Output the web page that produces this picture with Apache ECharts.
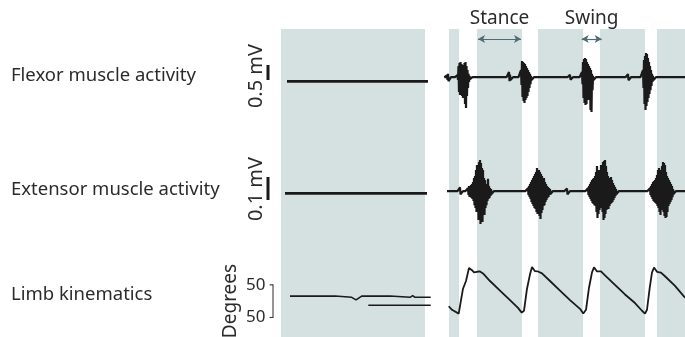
<!DOCTYPE html>
<html>
<head>
<meta charset="utf-8">
<script src="https://cdn.jsdelivr.net/npm/echarts@6.0.0/dist/echarts.min.js"></script>
<style>
  html, body { margin: 0; padding: 0; background: #fff; }
  #chart { width: 685px; height: 337px; }
</style>
</head>
<body>
<div id="chart"></div>
<script>
const FONT = "Noto Sans";
const INK = "#1a1a1a";
const BAND = "#d5e1e1";
const ARROW = "#4f6b73";

// time axis: arbitrary units, 0 = start of the first shaded block
const bandStarts = [0, 168, 196, 257, 319, 376];
const bandEnds = [144, 178, 241, 302, 364, 404];

const phaseNames = ["Stance", "Swing"];
const phaseStarts = [197, 300.7];
const phaseEnds = [240, 320.7];
const phaseLevel = 298;

// flexor EMG (mV)
const flexLeftSpan = [6, 147];
const flexLeftBase = -0.08;
const flexRightSpan = [166, 404];
const flexRightBase = 0.06;
const flexStarts = [166, 176.5, 228, 240, 289, 301, 347, 362];
const flexHi = [
  [0.12, 0.17],
  [0.13, 0.43, 0.53, 0.57, 0.5, 0.43, 0.47, 0.53, 0.57, 0.43, 0.3, 0.17, 0.1],
  [0.23, 0.15],
  [0.3, 0.6, 0.57, 0.53, 0.5, 0.43, 0.37, 0.3, 0.23, 0.17, 0.1],
  [0.14],
  [0.23, 0.57, 0.67, 0.7, 0.67, 0.57, 0.5, 0.43, 0.37, 0.3, 0.17, 0.1],
  [0.16],
  [0.3, 0.63, 0.77, 0.87, 0.83, 0.7, 0.57, 0.43, 0.3, 0.17, 0.1]
];
const flexLo = [
  [-0.03, -0.07],
  [-0.03, -0.43, -0.53, -0.5, -0.57, -0.63, -0.6, -0.83, -0.97, -0.57, -0.3, -0.1, 0],
  [-0.07, -0.03],
  [-0.2, -0.6, -0.73, -0.8, -0.7, -0.63, -0.57, -0.43, -0.3, -0.17, -0.03],
  [-0.02],
  [-0.17, -0.63, -0.8, -0.87, -0.83, -0.7, -0.63, -0.7, -1.03, -1.1, -0.37, -0.03],
  [-0.04],
  [-0.3, -0.83, -1.03, -0.9, -0.77, -0.63, -0.5, -0.37, -0.23, -0.1, -0.03]
];
const flexBarX = [-13, -13];
const flexBarMv = [-0.03, 0.47];

// extensor EMG (mV)
const extLeftSpan = [4, 146];
const extLeftBase = -0.006;
const extRightSpan = [166, 404];
const extRightBase = 0.004;
const extStarts = [179, 187, 247, 286, 307, 369];
const extHi = [
  [0.02],
  [0.017, 0.026, 0.022, 0.03, 0.035, 0.043, 0.061, 0.07, 0.096, 0.117, 0.087, 0.13,
   0.139, 0.126, 0.104, 0.096, 0.061, 0.052, 0.035, 0.026, 0.057, 0.026, 0.017, 0.013],
  [0.017, 0.026, 0.035, 0.043, 0.052, 0.061, 0.07, 0.078, 0.087, 0.104, 0.074, 0.096,
   0.087, 0.078, 0.07, 0.052, 0.061, 0.043, 0.035, 0.026, 0.022, 0.017, 0.013],
  [0.015],
  [0.017, 0.026, 0.035, 0.043, 0.052, 0.057, 0.061, 0.07, 0.087, 0.113, 0.096, 0.078,
   0.096, 0.117, 0.104, 0.13, 0.135, 0.139, 0.113, 0.087, 0.07, 0.061, 0.057, 0.065,
   0.052, 0.039, 0.03, 0.022, 0.013],
  [0.017, 0.026, 0.035, 0.043, 0.048, 0.052, 0.061, 0.074, 0.096, 0.104, 0.087, 0.096,
   0.113, 0.13, 0.126, 0.117, 0.087, 0.07, 0.061, 0.052, 0.043, 0.035, 0.026, 0.013]
];
const extLo = [
  [-0.01],
  [-0.013, -0.022, -0.017, -0.026, -0.03, -0.039, -0.057, -0.07, -0.087, -0.078, -0.122, -0.104,
   -0.139, -0.126, -0.13, -0.096, -0.1, -0.07, -0.057, -0.039, -0.03, -0.026, -0.017, -0.009],
  [-0.013, -0.022, -0.03, -0.043, -0.052, -0.061, -0.07, -0.074, -0.087, -0.096, -0.083, -0.104,
   -0.117, -0.091, -0.078, -0.061, -0.057, -0.043, -0.035, -0.026, -0.022, -0.013, -0.009],
  [-0.01],
  [-0.013, -0.022, -0.03, -0.039, -0.048, -0.052, -0.057, -0.061, -0.087, -0.113, -0.096, -0.078,
   -0.07, -0.065, -0.087, -0.122, -0.113, -0.096, -0.078, -0.07, -0.074, -0.061, -0.052, -0.048,
   -0.043, -0.035, -0.026, -0.017, -0.009],
  [-0.013, -0.022, -0.03, -0.039, -0.043, -0.048, -0.052, -0.061, -0.07, -0.087, -0.1, -0.078,
   -0.07, -0.087, -0.104, -0.113, -0.109, -0.087, -0.061, -0.052, -0.043, -0.035, -0.022, -0.009]
];
const extBarX = [-13, -13];
const extBarMv = [-0.035, 0.065];

// limb kinematics (degrees)
const kinLeftX = [9, 54, 56, 70.7, 75, 80.7, 97, 99, 101, 109, 111, 129, 131.7, 134, 149.7];
const kinLeftDeg = [82.8, 82.8, 80.9, 80.9, 76.9, 82.8, 82.8, 85.3, 82.8, 82.8, 80.9, 80.9, 83.5, 80.9, 80.9];
const kinLeft2X = [87.3, 149.7];
const kinLeft2Deg = [68.7, 68.7];
const kinRightX = [
  167.7, 171, 177.7, 179, 182, 185, 188, 191, 193, 196, 199, 202, 209, 219, 229, 237, 240.7,
  243, 246, 249, 251, 254, 257, 261, 269, 279, 289, 299, 302.3,
  305, 308, 311, 313, 316, 320, 324, 334, 344, 354, 361, 364,
  366, 368.6, 371, 373, 376, 380, 384, 394, 404
];
const kinRightDeg = [
  67.2, 61.8, 55.9, 58.8, 94.1, 105.9, 126.0, 122.5, 119.1, 120.1, 120.6, 117.6, 105.9, 91.2, 76.5, 64.7, 57.4,
  60.3, 94.1, 116.2, 127.5, 121.0, 120.6, 117.6, 105.9, 91.2, 76.5, 63.2, 55.9,
  61.8, 95.6, 119.1, 126.9, 120.6, 120.6, 114.7, 100, 85.3, 72.1, 60.3, 55.9,
  61.8, 94.1, 119.1, 126.5, 120.1, 118.7, 113.2, 98.5, 80.4
];
const bracketX = [-11, -8, -8, -11];
const bracketDeg = [100, 100, 50, 50];
const bracketLabels = ["50", "", "", "50"];

function pairs(xs, ys) {
  return xs.map((x, i) => [x, ys[i]]);
}

// baseline with bursts drawn as a dense up/down sweep between the envelope values;
// the baseline points sit a few units away so the renderer doesn't drop them as tiny segments
function trace(span, base, starts, his, los) {
  const pts = [[span[0], base]];
  starts.forEach((x0, k) => {
    pts.push([x0 - 2.5, base]);
    his[k].forEach((h, i) => {
      pts.push([x0 + i, h]);
      pts.push([x0 + i + 0.5, los[k][i]]);
    });
    pts.push([x0 + his[k].length + 2, base]);
  });
  pts.push([span[1], base]);
  return pts;
}

const chart = echarts.init(document.getElementById("chart"), null, { renderer: "canvas" });

const xAxisBase = { type: "value", min: -41, max: 404, show: false };
const grids = [
  { left: 240, right: 0, top: 29, bottom: 0 },
  { left: 240, right: 0, top: 34, height: 90 },
  { left: 240, right: 0, top: 146, height: 92 },
  { left: 240, right: 0, top: 258.8, height: 81.6 }
];

const emgLine = { color: INK, width: 2.6, join: "bevel" };
const labelFont = `18.5px "${FONT}"`;
const unitFont = `20px "${FONT}"`;

const option = {
  animation: false,
  grid: grids,
  xAxis: grids.map((g, i) => Object.assign({ gridIndex: i }, xAxisBase)),
  yAxis: [
    { gridIndex: 0, type: "value", min: 0, max: 308, show: false },
    { gridIndex: 1, type: "value", min: -1.5, max: 1.5, show: false },
    { gridIndex: 2, type: "value", min: -0.2, max: 0.2, show: false },
    { gridIndex: 3, type: "value", min: 20, max: 140, show: false }
  ],
  graphic: [
    { type: "text", left: 11, top: 66, style: { text: "Flexor muscle activity", font: labelFont, fill: "#2b2b2b" } },
    { type: "text", left: 11, top: 180, style: { text: "Extensor muscle activity", font: labelFont, fill: "#2b2b2b" } },
    { type: "text", left: 11, top: 285, style: { text: "Limb kinematics", font: labelFont, fill: "#2b2b2b" } },
    { type: "text", x: 256, y: 76, rotation: Math.PI / 2,
      style: { text: "0.5 mV", font: unitFont, fill: "#2b2b2b", align: "center", verticalAlign: "middle" } },
    { type: "text", x: 256, y: 189, rotation: Math.PI / 2,
      style: { text: "0.1 mV", font: unitFont, fill: "#2b2b2b", align: "center", verticalAlign: "middle" } },
    { type: "text", x: 231, y: 301, rotation: Math.PI / 2,
      style: { text: "Degrees", font: `19px "${FONT}"`, fill: "#2b2b2b", align: "center", verticalAlign: "middle" } }
  ],
  series: [
    {
      type: "line",
      xAxisIndex: 0,
      yAxisIndex: 0,
      data: [],
      silent: true,
      markArea: {
        silent: true,
        itemStyle: { color: BAND },
        data: bandStarts.map((s, i) => [{ xAxis: s }, { xAxis: bandEnds[i] }])
      },
      markLine: {
        silent: true,
        symbol: ["arrow", "arrow"],
        symbolSize: [6, 7],
        lineStyle: { color: ARROW, width: 1.2, type: "solid" },
        label: {
          show: true,
          position: "insideMiddleTop",
          distance: 11,
          formatter: "{b}",
          color: "#2b2b2b",
          fontSize: 19,
          fontFamily: FONT
        },
        data: phaseNames.map((n, i) => [
          { name: n, coord: [phaseStarts[i], phaseLevel] },
          { coord: [phaseEnds[i], phaseLevel] }
        ])
      }
    },
    {
      name: "Flexor (before)",
      type: "line", xAxisIndex: 1, yAxisIndex: 1, showSymbol: false,
      lineStyle: emgLine,
      data: trace(flexLeftSpan, flexLeftBase, [], [], [])
    },
    {
      name: "Flexor",
      type: "line", xAxisIndex: 1, yAxisIndex: 1, showSymbol: false,
      lineStyle: Object.assign({}, emgLine, { width: 2.2 }),
      data: trace(flexRightSpan, flexRightBase, flexStarts, flexHi, flexLo)
    },
    {
      name: "0.5 mV",
      type: "line", xAxisIndex: 1, yAxisIndex: 1, showSymbol: false,
      lineStyle: { color: INK, width: 3 },
      data: pairs(flexBarX, flexBarMv)
    },
    {
      name: "Extensor (before)",
      type: "line", xAxisIndex: 2, yAxisIndex: 2, showSymbol: false,
      lineStyle: emgLine,
      data: trace(extLeftSpan, extLeftBase, [], [], [])
    },
    {
      name: "Extensor",
      type: "line", xAxisIndex: 2, yAxisIndex: 2, showSymbol: false,
      lineStyle: Object.assign({}, emgLine, { width: 2.2 }),
      data: trace(extRightSpan, extRightBase, extStarts, extHi, extLo)
    },
    {
      name: "0.1 mV",
      type: "line", xAxisIndex: 2, yAxisIndex: 2, showSymbol: false,
      lineStyle: { color: INK, width: 3 },
      data: pairs(extBarX, extBarMv)
    },
    {
      name: "Kinematics (before)",
      type: "line", xAxisIndex: 3, yAxisIndex: 3, showSymbol: false,
      lineStyle: { color: INK, width: 1.6 },
      data: pairs(kinLeftX, kinLeftDeg)
    },
    {
      name: "Kinematics (before 2)",
      type: "line", xAxisIndex: 3, yAxisIndex: 3, showSymbol: false,
      lineStyle: { color: INK, width: 1.6 },
      data: pairs(kinLeft2X, kinLeft2Deg)
    },
    {
      name: "Kinematics",
      type: "line", xAxisIndex: 3, yAxisIndex: 3, showSymbol: false,
      lineStyle: { color: INK, width: 1.8 },
      data: pairs(kinRightX, kinRightDeg)
    },
    {
      name: "Degrees scale",
      type: "line", xAxisIndex: 3, yAxisIndex: 3,
      showSymbol: true, symbol: "circle", symbolSize: 1,
      itemStyle: { color: "#2b2b2b" },
      lineStyle: { color: "#2b2b2b", width: 1 },
      label: {
        show: true,
        position: "left",
        distance: 4,
        formatter: (p) => bracketLabels[p.dataIndex],
        color: "#2b2b2b",
        fontSize: 17,
        fontFamily: FONT
      },
      data: pairs(bracketX, bracketDeg)
    }
  ]
};

chart.setOption(option);
</script>
</body>
</html>
